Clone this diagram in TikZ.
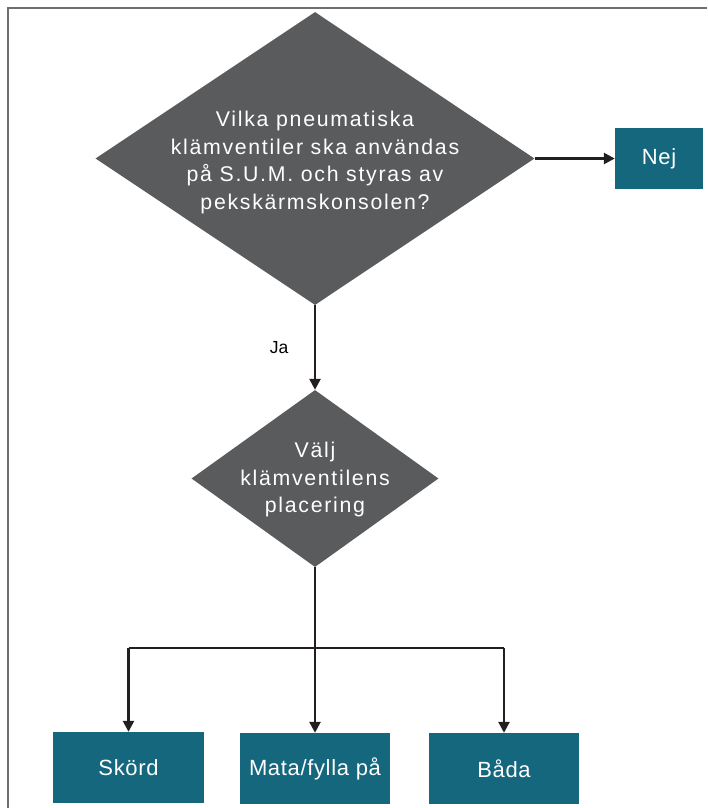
\documentclass[tikz,border=0pt]{standalone}
\usepackage{fontspec}
\setmainfont{Liberation Sans}
\newfontfamily\glesfont[LetterSpace=8]{Liberation Sans}
\newfontfamily\rutfont[LetterSpace=3]{Liberation Sans}
\usepackage{tikz}
\usetikzlibrary{shapes.geometric, arrows.meta, positioning}
\usepackage{xcolor}
\definecolor{romb}{HTML}{5A5B5D}
\definecolor{petrol}{HTML}{14677D}
\definecolor{pil}{HTML}{231F20}
\definecolor{ram}{HTML}{6D6E71}

\tikzset{
  beslut/.style = {diamond, fill = romb, inner sep = 0pt},
  ruta/.style = {rectangle, fill = petrol, text = white, inner sep = 0pt, font = \rutfont\fontsize{22}{26}\selectfont},
  rombtext/.style = {text = white, align = center, font = \glesfont\fontsize{21.3}{27.8}\selectfont},
  flode/.style = {draw = pil, line width = 2.5pt},
  pilen/.style = {flode, arrows = {-Triangle[length = 11pt, width = 11pt]}}
}

\begin{document}
\begin{tikzpicture}[x = 1pt, y = -1pt]
        \useasboundingbox (0,0) rectangle (707,808);
        % Parametri
        \pgfmathsetmacro{\mx}{315}
        \pgfmathsetmacro{\gren}{648}
        % Ram
        \draw[ram, line width = 2pt] (8,808) -- (8,8) -- (707,8);
        % Frågor
        \node[beslut, minimum width = 439pt, minimum height = 293pt,
              label = {[rombtext, yshift = -4pt]center:{Vilka pneumatiska\\klämventiler ska användas\\på S.U.M. och styras av\\pekskärmskonsolen?}}] (fraga) at (\mx,158.5) {};
        \node[beslut, minimum width = 247pt, minimum height = 177pt,
              label = {[rombtext, yshift = -1pt]center:{Välj\\klämventilens\\placering}}] (placering) at (\mx,478.5) {};
        % Svar
        \node[ruta, minimum width = 88pt, minimum height = 61pt] (nej) at (659,158.5) {Nej};
        \node[ruta, minimum width = 151pt, minimum height = 71pt] (skord) at (128.5,767.5) {Skörd};
        \node[ruta, minimum width = 150pt, minimum height = 71pt] (mata) at (\mx,768.5) {Mata/fylla på};
        \node[ruta, minimum width = 150pt, minimum height = 71pt] (bada) at (504,768.5) {Båda};
        \coordinate (fork) at (\mx,\gren);
        % Pilar
        \draw[pilen] (fraga.east) -- (nej.west);
        \draw[pilen] (fraga.south) -- node[left = 22pt, font = \fontsize{17.5}{20}\selectfont] (ja) {Ja} (placering.north);
        \draw[flode] (placering.south) -- (fork);
        \draw[flode] (fork -| skord) -- (fork -| bada);
        \draw[pilen] (fork -| skord) -- (skord.north);
        \draw[pilen] (fork) -- (mata.north);
        \draw[pilen] (fork -| bada) -- (bada.north);
    \end{tikzpicture}
\end{document}
